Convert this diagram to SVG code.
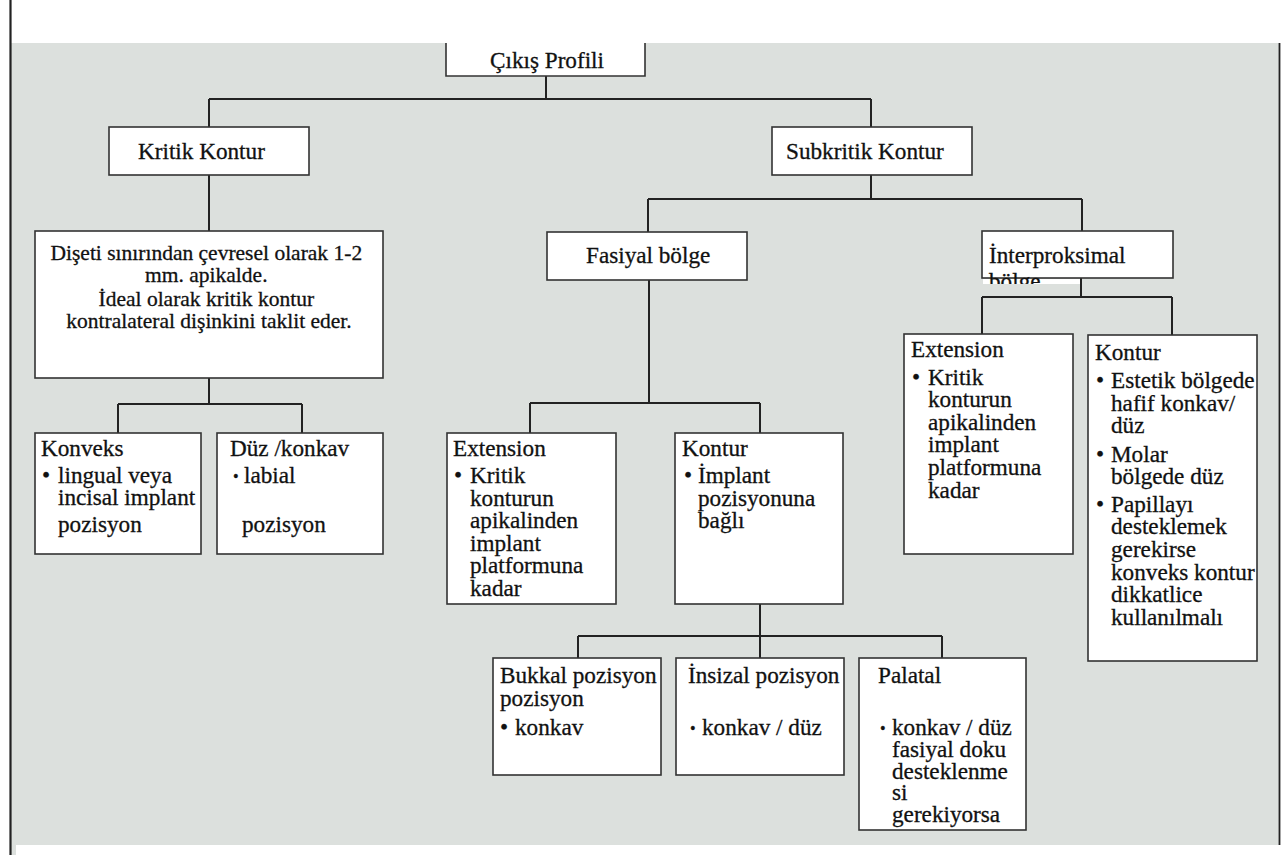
<svg xmlns="http://www.w3.org/2000/svg" width="1283" height="855" viewBox="0 0 1283 855">
<style>
.box{fill:#fff;stroke:#333;stroke-width:1.6}
.conn{stroke:#222;stroke-width:2;fill:none}
text{font-family:'Liberation Serif','Times New Roman',serif;font-size:23.2px;fill:#111;stroke:#111;stroke-width:0.3}
text.s{font-size:21.5px}
tspan.sb{font-size:16px}
</style>
<defs>
<clipPath id="clipInter"><rect x="982" y="231" width="191" height="53"/></clipPath>
</defs>
<rect x="0" y="0" width="1283" height="855" fill="#fff"/>
<rect x="11" y="43" width="1269" height="802" fill="#dce0dd"/>
<rect x="11" y="845" width="5" height="10" fill="#dce0dd"/>
<line x1="10.5" y1="0" x2="10.5" y2="855" stroke="#222" stroke-width="2.2"/>
<line x1="1279.5" y1="43" x2="1279.5" y2="845" stroke="#222" stroke-width="1.8"/>

<g id="connectors" class="conn">
<path d="M546 76V99M209 99H871M209 99V127M871 99V127"/>
<path d="M209 175V231M209 378V404M118 404H302M118 404V433M302 404V433"/>
<path d="M871 175V199M648 199H1082M648 199V232M1082 199V231"/>
<path d="M649 280V403M530 403H760M530 403V433M760 403V433"/>
<path d="M1081 278V297M982 297H1172M982 297V334M1172 297V335"/>
<path d="M760 604V636M578 636H942M578 636V658M760 636V658M942 636V658"/>
</g>

<g id="cikis-profili">
<rect x="446" y="43" width="199" height="33" fill="#fff"/>
<path d="M446 43V76H645V43" fill="none" stroke="#333" stroke-width="1.6"/>
<text x="547" y="68" text-anchor="middle">Çıkış Profili</text>
</g>

<g id="kritik-kontur">
<rect class="box" x="109" y="127" width="200" height="48"/>
<text x="138" y="159">Kritik Kontur</text>
</g>

<g id="subkritik-kontur">
<rect class="box" x="772" y="127" width="200" height="48"/>
<text x="786" y="159">Subkritik Kontur</text>
</g>

<g id="diseti">
<rect class="box" x="35" y="231" width="348" height="147"/>
<text class="s" text-anchor="middle">
<tspan x="209" y="260">Dişeti sınırından çevresel olarak 1-2</tspan>
<tspan x="209" y="282">mm. apikalde.</tspan>
<tspan x="209" y="306">İdeal olarak kritik kontur</tspan>
<tspan x="209" y="328">kontralateral dişinkini taklit eder.</tspan>
</text>
</g>

<g id="konveks">
<rect class="box" x="35" y="433" width="166" height="121"/>
<text>
<tspan x="41" y="456">Konveks</tspan>
<tspan x="42" y="483">•</tspan><tspan x="58" y="483">lingual veya</tspan>
<tspan x="58" y="505">incisal implant</tspan>
<tspan x="58" y="532">pozisyon</tspan>
</text>
</g>

<g id="duz-konkav">
<rect class="box" x="217" y="433" width="166" height="121"/>
<text>
<tspan x="230" y="456">Düz /konkav</tspan>
<tspan x="233" y="482" class="sb">•</tspan><tspan x="244" y="483">labial</tspan>
<tspan x="242" y="532">pozisyon</tspan>
</text>
</g>

<g id="fasiyal-bolge">
<rect class="box" x="547" y="232" width="200" height="48"/>
<text x="586" y="263">Fasiyal bölge</text>
</g>

<g id="interproksimal-bolge">
<rect class="box" x="982" y="231" width="191" height="47"/>
<rect x="983" y="279" width="97" height="5" fill="#fff"/>
<text clip-path="url(#clipInter)">
<tspan x="989" y="263">İnterproksimal</tspan>
<tspan x="989" y="289">bölge</tspan>
</text>
</g>

<g id="fasiyal-extension">
<rect class="box" x="447" y="433" width="169" height="171"/>
<text>
<tspan x="453" y="456">Extension</tspan>
<tspan x="454" y="483">•</tspan><tspan x="470" y="483">Kritik</tspan>
<tspan x="470" y="506">konturun</tspan>
<tspan x="470" y="528">apikalinden</tspan>
<tspan x="470" y="551">implant</tspan>
<tspan x="470" y="573">platformuna</tspan>
<tspan x="470" y="596">kadar</tspan>
</text>
</g>

<g id="fasiyal-kontur">
<rect class="box" x="675" y="433" width="168" height="171"/>
<text>
<tspan x="682" y="456">Kontur</tspan>
<tspan x="684" y="483">•</tspan><tspan x="698" y="483">İmplant</tspan>
<tspan x="698" y="506">pozisyonuna</tspan>
<tspan x="698" y="528">bağlı</tspan>
</text>
</g>

<g id="inter-extension">
<rect class="box" x="904" y="334" width="169" height="220"/>
<text>
<tspan x="911" y="357">Extension</tspan>
<tspan x="912" y="385">•</tspan><tspan x="928" y="385">Kritik</tspan>
<tspan x="928" y="407">konturun</tspan>
<tspan x="928" y="430">apikalinden</tspan>
<tspan x="928" y="452">implant</tspan>
<tspan x="928" y="475">platformuna</tspan>
<tspan x="928" y="498">kadar</tspan>
</text>
</g>

<g id="inter-kontur">
<rect class="box" x="1088" y="335" width="169" height="326"/>
<text>
<tspan x="1095" y="360">Kontur</tspan>
<tspan x="1096" y="388">•</tspan><tspan x="1111" y="388">Estetik bölgede</tspan>
<tspan x="1111" y="411">hafif konkav/</tspan>
<tspan x="1111" y="433">düz</tspan>
<tspan x="1096" y="462">•</tspan><tspan x="1111" y="462">Molar</tspan>
<tspan x="1111" y="484">bölgede düz</tspan>
<tspan x="1096" y="512">•</tspan><tspan x="1111" y="512">Papillayı</tspan>
<tspan x="1111" y="534">desteklemek</tspan>
<tspan x="1111" y="557">gerekirse</tspan>
<tspan x="1111" y="580">konveks kontur</tspan>
<tspan x="1111" y="602">dikkatlice</tspan>
<tspan x="1111" y="625">kullanılmalı</tspan>
</text>
</g>

<g id="bukkal">
<rect class="box" x="493" y="658" width="168" height="117"/>
<text>
<tspan x="500" y="683">Bukkal pozisyon</tspan>
<tspan x="500" y="706">pozisyon</tspan>
<tspan x="500" y="735">•</tspan><tspan x="515" y="735">konkav</tspan>
</text>
</g>

<g id="insizal">
<rect class="box" x="676" y="658" width="168" height="117"/>
<text>
<tspan x="688" y="683">İnsizal pozisyon</tspan>
<tspan x="690" y="734" class="sb">•</tspan><tspan x="702" y="735">konkav / düz</tspan>
</text>
</g>

<g id="palatal">
<rect class="box" x="859" y="658" width="167" height="172"/>
<text>
<tspan x="878" y="683">Palatal</tspan>
<tspan x="880" y="734" class="sb">•</tspan><tspan x="892" y="735">konkav / düz</tspan>
<tspan x="892" y="757">fasiyal doku</tspan>
<tspan x="892" y="779">desteklenme</tspan>
<tspan x="892" y="800">si</tspan>
<tspan x="892" y="822">gerekiyorsa</tspan>
</text>
</g>
</svg>
